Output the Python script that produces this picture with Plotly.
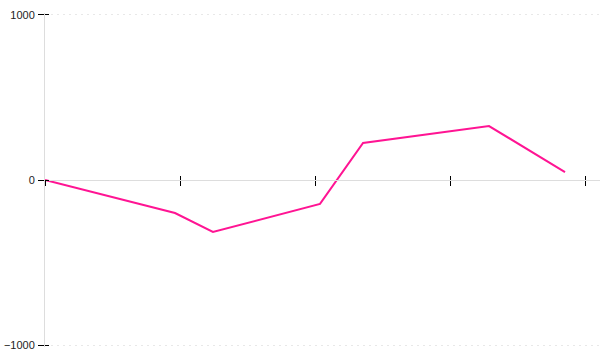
import plotly.graph_objects as go

x_vals = [0.0, 0.963, 1.244, 2.037, 2.356, 3.289, 3.852]
y_vals = [0, -200, -315, -145, 224, 327, 48]
x_ticks = [0, 1, 2, 3, 4]
y_ticks = [-1000, 0, 1000]
y_tick_text = ["\u22121000", "0", "1000"]

fig = go.Figure()
fig.add_trace(go.Scatter(x=x_vals, y=y_vals, mode="lines",
                         line=dict(color="#ff1493", width=2), hoverinfo="skip"))
fig.add_trace(go.Scatter(x=[x_vals[0]], y=[y_vals[0]], mode="markers", xaxis="x2", yaxis="y2",
                         marker=dict(opacity=0), hoverinfo="skip"))

xr = [0, 555 / 135]
yr = [-1012, 1012]
fig.update_layout(
    width=600, height=360, margin=dict(l=45, r=0, t=13, b=13),
    paper_bgcolor="white", plot_bgcolor="white", showlegend=False,
    font=dict(family="Liberation Sans", size=11, color="#222"),
    xaxis=dict(range=xr, tickvals=x_ticks, showticklabels=False, ticks="outside", ticklen=5,
               tickcolor="black", tickwidth=1, showline=True, linecolor="#dddddd", linewidth=1,
               anchor="free", position=0.5, showgrid=False, zeroline=False),
    xaxis2=dict(range=xr, overlaying="x", matches="x", tickvals=x_ticks, showticklabels=False,
                ticks="inside", ticklen=4, tickcolor="black", tickwidth=1, showline=False,
                anchor="free", position=0.5, showgrid=False, zeroline=False),
    yaxis=dict(range=yr, tickvals=y_ticks, ticktext=y_tick_text, ticks="outside",
               ticklen=6, tickcolor="black", tickwidth=1, showline=True, linecolor="#dddddd",
               linewidth=1, showgrid=True, gridcolor="#e8e8e8", gridwidth=1, griddash="2px,4px",
               zeroline=False, ticklabelstandoff=1),
    yaxis2=dict(range=yr, overlaying="y", matches="y", tickvals=y_ticks, side="left",
                showticklabels=False, ticks="inside", ticklen=4, tickcolor="black", tickwidth=1,
                showline=False, showgrid=False, zeroline=False),
)
fig.write_html("out.html")
